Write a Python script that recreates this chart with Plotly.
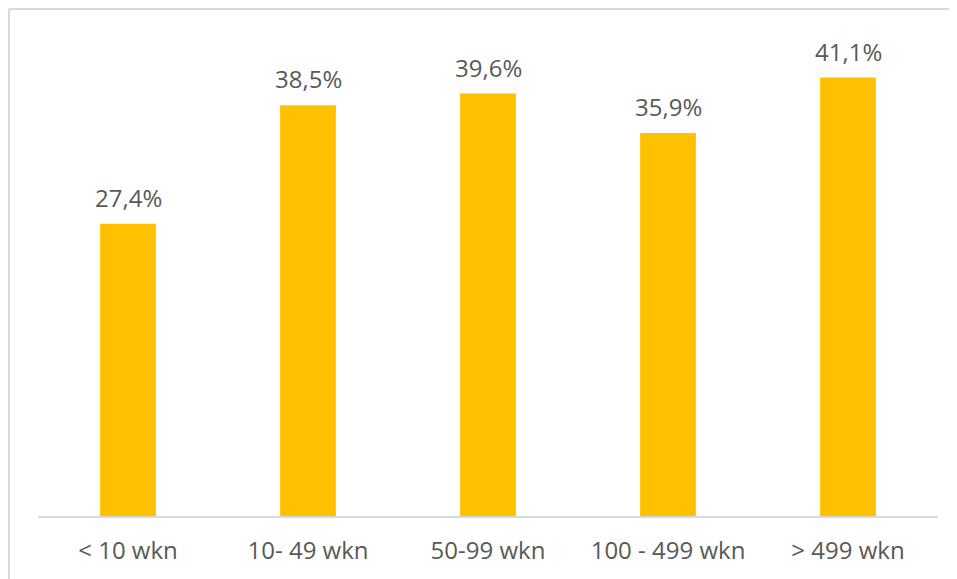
import plotly.graph_objects as go

categories = ["< 10 wkn", "10- 49 wkn", "50-99 wkn", "100 - 499 wkn", "> 499 wkn"]
values = [27.4, 38.5, 39.6, 35.9, 41.1]
labels = [f"{v:.1f}%".replace(".", ",") for v in values]

FONT = "Open Sans"
TXT = "#595959"

fig = go.Figure()
fig.add_trace(go.Bar(x=categories, y=values, marker=dict(color="#FFC000", line=dict(width=0)),
                     width=0.31, hoverinfo="skip"))

for c, v, t in zip(categories, values, labels):
    fig.add_annotation(x=c, y=v, text=t, showarrow=False, yanchor="bottom", yshift=8,
                       font=dict(family=FONT, size=24, color=TXT))

# chart border: left and top edges of the figure frame
fig.add_shape(type="line", xref="paper", yref="paper", x0=-29/900, x1=-29/900, y0=-0.3, y1=1 + 27/480,
              line=dict(color="#d9d9d9", width=2), layer="below")
fig.add_shape(type="line", xref="paper", yref="paper", x0=-29/900, x1=1.1, y0=1 + 27/480, y1=1 + 27/480,
              line=dict(color="#d9d9d9", width=2), layer="below")

fig.update_layout(
    width=957, height=579,
    margin=dict(l=30, r=27, t=28, b=71),
    paper_bgcolor="white", plot_bgcolor="white",
    showlegend=False,
)
fig.update_xaxes(showline=True, linecolor="#d9d9d9", linewidth=1.5, ticks="outside", ticklen=12,
                 tickcolor="rgba(0,0,0,0)", tickfont=dict(family=FONT, size=24, color=TXT),
                 showgrid=False)
fig.update_yaxes(range=[0, 45], visible=False, showgrid=False)

fig.write_html("out.html")
